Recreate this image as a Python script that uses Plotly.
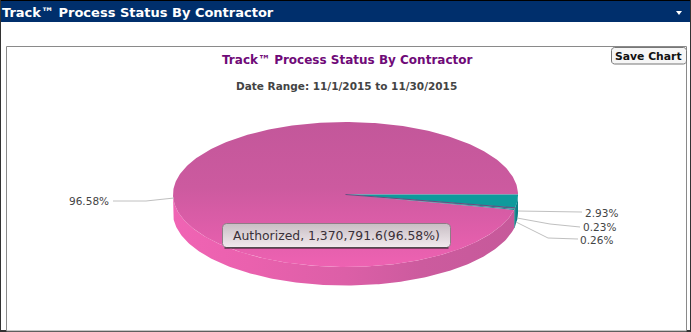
import numpy as np
import plotly.graph_objects as go

categories = ["Contractor B", "Contractor C", "Contractor D", "Authorized"]
shares = [2.93, 0.23, 0.26, 96.58]
label_texts = ["2.93%", "0.23%", "0.26%", "96.58%"]
page_title = "Track™ Process Status By Contractor"
date_range = "Date Range: 11/1/2015 to 11/30/2015"
tooltip_text = "Authorized, 1,370,791.6(96.58%)"
button_text = "Save Chart"

CX, CY, RX, RY, DEPTH = 345.5, 194.5, 172.5, 72.5, 18.5
top_colors = ["#0e9a9c", "#1a8a8c", "#2a7f90", None]
side_colors = ["#0c7f86", "#15707a", "#1f6a80", None]


def pt(theta, dy=0.0):
    return CX + RX * np.cos(theta), CY + RY * np.sin(theta) + dy


def arc(a, b, n=None):
    n = n or max(3, int(abs(b - a) * 40))
    return np.linspace(a, b, n)


fig = go.Figure()


def poly(x, y, **kw):
    fig.add_trace(go.Scatter(x=list(x), y=list(y), mode=kw.pop("mode", "lines"),
                             hoverinfo="skip", showlegend=False, **kw))


def rounded(x0, x1, y0, y1, r):
    ca = np.linspace(0, np.pi / 2, 6)
    xs = np.r_[x1 - r + r * np.sin(ca), x1 - r + r * np.cos(ca), x0 + r - r * np.sin(ca), x0 + r - r * np.cos(ca), x1 - r]
    ys = np.r_[y0 + r - r * np.cos(ca), y1 - r + r * np.sin(ca), y1 - r + r * np.cos(ca), y0 + r - r * np.sin(ca), y0]
    return xs, ys


bounds = np.concatenate([[0], np.cumsum(shares)]) / sum(shares) * 2 * np.pi

# side wall: only the front half (0..pi) of the rim is visible
pink_start, pink_end = bounds[3], bounds[4]
t = arc(pink_start, np.pi, 200)
x1, y1 = pt(t)
x2, y2 = pt(t[::-1], DEPTH)
poly(np.r_[x1, x2], np.r_[y1, y2], fill="toself", line=dict(width=0),
     fillgradient=dict(type="horizontal", start=CX - RX, stop=CX + RX,
                       colorscale=[[0, "#f064b4"], [0.22, "#ea61ae"], [0.5, "#dc5fa7"],
                                   [0.72, "#cc5b9e"], [1, "#c6599a"]]))
for i in range(3):
    t = arc(bounds[i], bounds[i + 1], 30)
    x1, y1 = pt(t)
    x2, y2 = pt(t[::-1], DEPTH)
    poly(np.r_[x1, x2], np.r_[y1, y2], fill="toself", line=dict(width=0),
         fillcolor=side_colors[i])

# top face
t = arc(pink_start, pink_end, 400)
x, y = pt(t)
poly(np.r_[CX, x, CX], np.r_[CY, y, CY], fill="toself", line=dict(width=0),
     fillgradient=dict(type="vertical", start=CY - RY, stop=CY + RY,
                       colorscale=[[0, "#c3579a"], [0.45, "#cc5a9f"], [0.7, "#dc5da8"], [1, "#ee62b2"]]))
for i in range(3):
    t = arc(bounds[i], bounds[i + 1], 30)
    x, y = pt(t)
    poly(np.r_[CX, x, CX], np.r_[CY, y, CY], fill="toself", line=dict(width=0),
         fillcolor=top_colors[i])
# dark seam between the first slice and the rest
poly([CX, pt(bounds[1])[0]], [CY, pt(bounds[1])[1]], line=dict(color="#6a4a80", width=1))

# leader lines
poly([518, 582], [211, 212], line=dict(color="#c0c0c0", width=1))
poly([517, 550, 580], [218, 224, 227], line=dict(color="#c0c0c0", width=1))
poly([516, 548, 578], [222, 238, 239], line=dict(color="#c0c0c0", width=1))
poly([113, 146, 174], [201, 201, 198], line=dict(color="#c0c0c0", width=1))

# tooltip
tx0, tx1, ty0, ty1 = 222.5, 450.5, 223.5, 247.5
tipx, tipy = rounded(tx0, tx1, ty0, ty1, 4)
poly(tipx, tipy, fill="toself", line=dict(color="#8e7c86", width=1),
     fillgradient=dict(type="vertical", start=ty0, stop=ty1,
                       colorscale=[[0, "#c8bec4"], [1, "#f2eaee"]]))
poly([tx0 + 2, tx1 - 2], [ty1 + 0.5, ty1 + 0.5], line=dict(color="#1a1a1a", width=1))

# save button
bx, by = rounded(611.5, 686.5, 47.5, 64, 3)
poly(bx, by, fill="toself", fillcolor="#f6f6f6", line=dict(color="#777777", width=1))


def note(x, y, text, size, color, anchor="center", bold=False, family="DejaVu Sans"):
    fig.add_annotation(x=x, y=y, text=f"<b>{text}</b>" if bold else text, showarrow=False,
                       xanchor=anchor, yanchor="middle", xshift=0, borderpad=0, borderwidth=0,
                       font=dict(size=size, color=color, family=family))


note(2, 12, page_title, 13, "#ffffff", "left", True)
note(346.5, 60, page_title, 12, "#6f0a78", "center", True)
note(346.5, 86, date_range, 10.5, "#444444", "center", True)
note(648.5, 56.5, button_text, 10.8, "#111111", "center", True)
note(601.5, 212.5, label_texts[0], 10.5, "#444444")
note(599, 227, label_texts[1], 10.5, "#444444")
note(596.5, 239.5, label_texts[2], 10.5, "#444444")
note(88.5, 201, label_texts[3], 10.5, "#444444")
note(336.5, 235.5, tooltip_text, 12.4, "#3a3038")

shapes = [
    dict(type="rect", x0=0, x1=691, y0=0, y1=22, fillcolor="#002f6c", line_width=0, layer="below"),
    dict(type="rect", x0=0, x1=691, y0=0, y1=1, fillcolor="#000000", line_width=0, layer="below"),
    dict(type="rect", x0=0, x1=691, y0=330, y1=332, fillcolor="#333333", line_width=0, layer="below"),
    dict(type="rect", x0=0, x1=1, y0=0, y1=332, fillcolor="#333333", line_width=0, layer="below"),
    dict(type="rect", x0=690, x1=691, y0=0, y1=332, fillcolor="#333333", line_width=0, layer="below"),
    dict(type="rect", x0=6.5, x1=686.5, y0=46.5, y1=331, fillcolor="#ffffff",
         line=dict(color="#8a8a8a", width=1), layer="below"),
    dict(type="path", path="M 676 11 L 682 11 L 679 15 Z", fillcolor="#ffffff", line_width=0),
]

fig.update_layout(
    width=691, height=332, margin=dict(l=0, r=0, t=0, b=0),
    paper_bgcolor="#ffffff", plot_bgcolor="#ffffff", showlegend=False, shapes=shapes,
    xaxis=dict(range=[0, 691], visible=False, fixedrange=True),
    yaxis=dict(range=[332, 0], visible=False, fixedrange=True),
)
fig.write_html("out.html", config=dict(displayModeBar=False),
               post_script="document.body.style.margin='0';document.body.style.overflow='hidden';")
